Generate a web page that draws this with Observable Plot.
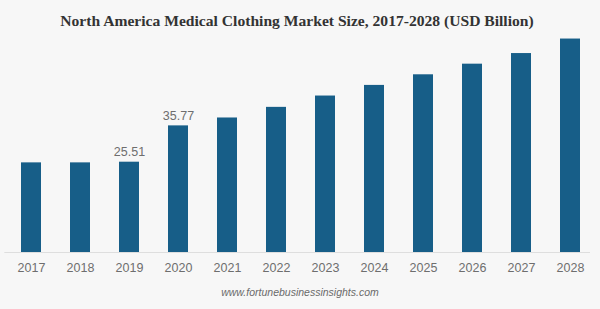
<!DOCTYPE html>
<html>
<head>
<meta charset="utf-8">
<script src="https://cdn.jsdelivr.net/npm/d3@7"></script>
<script src="https://cdn.jsdelivr.net/npm/@observablehq/plot@0.6"></script>
<style>
  html, body { margin: 0; padding: 0; background: #f7f7f7; }
  #wrap { position: relative; width: 600px; height: 309px; overflow: hidden; background: #f7f7f7; }
  #title { position: absolute; left: 0; top: 12px; width: 594px; text-align: center;
           font: bold 15.6px "Liberation Serif", "Times New Roman", serif; line-height: 17px; color: #333; }
  #chart { position: absolute; left: 0; top: 0; }
  #caption { position: absolute; left: 0; top: 285px; width: 600px; text-align: center;
             font: italic 10.5px "Liberation Sans", Arial, sans-serif; line-height: 14px; color: #6a6a6a; }
</style>
</head>
<body>
<div id="wrap">
  <div id="chart"></div>
  <div id="title"></div>
  <div id="caption"></div>
</div>
<script>
const titleText = "North America Medical Clothing Market Size, 2017-2028 (USD Billion)";
const captionText = "www.fortunebusinessinsights.com";
const years = ["2017", "2018", "2019", "2020", "2021", "2022", "2023", "2024", "2025", "2026", "2027", "2028"];
const values = [25.32, 25.32, 25.51, 35.77, 38.0, 41.0, 44.2, 47.2, 50.2, 53.2, 56.2, 60.3];
const labeledYears = ["2019", "2020"];

const data = years.map((year, i) => ({year, value: values[i]}));
const labeled = data.filter(d => labeledYears.includes(d.year));

document.getElementById("title").textContent = titleText;
document.getElementById("caption").textContent = captionText;

const chart = Plot.plot({
  width: 600,
  height: 309,
  marginLeft: 4.35,
  marginRight: 4,
  marginBottom: 57,
  marginTop: 21.9,
  style: { background: "transparent", fontFamily: "Liberation Sans, Arial, sans-serif" },
  x: { type: "band", domain: years, paddingInner: 0.6, paddingOuter: 0.3, label: null },
  y: { domain: [0, 65], axis: null },
  marks: [
    Plot.ruleY([0], { stroke: "#dedede", strokeWidth: 1, insetRight: 6 }),
    Plot.barY(data, { x: "year", y: "value", fill: "#175e88" }),
    Plot.text(labeled, { x: "year", y: "value", text: d => d.value.toFixed(2), dy: -10,
      fill: "#6e6e6e", fontSize: 12.5 }),
    Plot.axisX({ tickSize: 0, tickPadding: 11, fontSize: 12.5, color: "#6e6e6e", label: null })
  ]
});
document.getElementById("chart").appendChild(chart);
</script>
</body>
</html>
